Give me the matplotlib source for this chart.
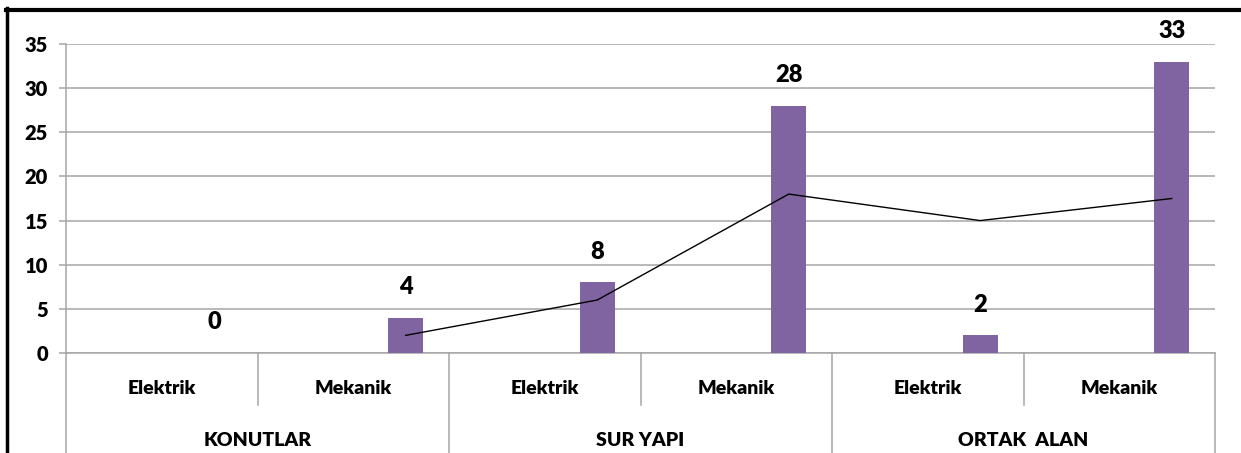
import numpy as np
import matplotlib
matplotlib.use('Agg')
import matplotlib.pyplot as plt
from matplotlib.lines import Line2D

# Data
groups = ['KONUTLAR', 'SUR YAPI', 'ORTAK  ALAN']
subcats = ['Elektrik', 'Mekanik', 'Elektrik', 'Mekanik', 'Elektrik', 'Mekanik']
values = [0, 4, 8, 28, 2, 33]
# 2-period moving average trendline
trend = [2, 6, 18, 15, 17.5]

plt.rcParams['font.family'] = ['Lato', 'DejaVu Sans']
wt = 'heavy'

bar_color = '#8064A2'
grid_color = '#A6A6A6'

W, H = 1241, 453
fig = plt.figure(figsize=(W / 100, H / 100), dpi=100)
ax = fig.add_axes([66 / W, 100 / H, 1149 / W, 309 / H])

x = np.arange(len(values)) + 0.5 + 0.274
ax.bar(x, values, width=0.183, color=bar_color, zorder=3)
ax.plot(x[1:], trend, color='black', linewidth=1.0, zorder=4)

for xi, v in zip(x, values):
    ax.annotate(str(v), (xi, v), xytext=(0, 22), textcoords='offset points',
                ha='center', va='center', fontsize=17, fontweight=wt)

ax.set_xlim(0, 6)
ax.set_ylim(0, 35)
ax.set_yticks(range(0, 36, 5))
ax.yaxis.grid(True, color=grid_color, linewidth=1.1)
ax.set_axisbelow(True)
ax.set_xticks([])
ax.tick_params(axis='y', length=5, width=1.1, color=grid_color, pad=8, labelsize=14.5)
for lab in ax.get_yticklabels():
    lab.set_fontweight(wt)
for s in ['top', 'right', 'left']:
    ax.spines[s].set_visible(False)
ax.spines['bottom'].set_color(grid_color)
ax.spines['bottom'].set_linewidth(1.1)

# category axis drawn below the plot area
tr = ax.get_xaxis_transform()
row1 = -52 / 309
for i in range(7):
    if i % 2 == 0:
        y0 = -110 / 309
    else:
        y0 = row1
    ax.add_line(Line2D([i, i], [0, y0], transform=tr, color=grid_color,
                       linewidth=1.1, clip_on=False))
ax.add_line(Line2D([0, 0], [0, 1], transform=tr, color=grid_color,
                   linewidth=1.1, clip_on=False))
for i, name in enumerate(subcats):
    ax.text(i + 0.5, -35 / 309, name, transform=tr, ha='center', va='center',
            fontsize=14, fontweight=wt)
for i, name in enumerate(groups):
    ax.text(2 * i + 1, -87 / 309, name, transform=tr, ha='center', va='center',
            fontsize=14, fontweight=wt)

# outer frame (top and left edges)
fig.add_artist(Line2D([7 / W, 7 / W], [0, 1 - 8 / H], color='black', linewidth=2.5))
fig.add_artist(Line2D([6 / W, 1], [1 - 10 / H, 1 - 10 / H], color='black', linewidth=3))

fig.savefig('out.png', dpi=100)
